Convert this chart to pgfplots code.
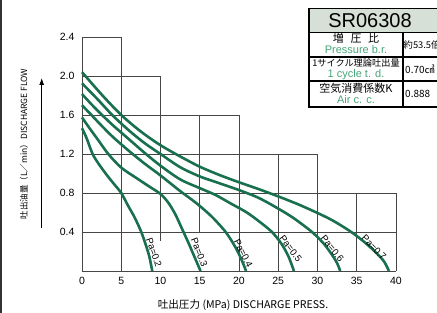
\documentclass[border=0pt]{standalone}
\usepackage{pgfplots}
\pgfplotsset{compat=1.18}
\usetikzlibrary{arrows.meta}
\usepackage{fontspec}
\setmainfont{Liberation Sans}
\newfontfamily\cjk{Noto Sans CJK JP}
\definecolor{cg}{RGB}{24,112,78}
\definecolor{tg}{RGB}{70,165,120}
\definecolor{hf}{RGB}{214,224,214}
\definecolor{gl}{RGB}{70,70,70}
\begin{document}
\begin{tikzpicture}[x=1pt,y=1pt]
\useasboundingbox (0,0) rectangle (437,313);
\draw[line width=1.5pt, black!80] (0.75,0) -- (0.75,313);
% y label and arrow
\node[rotate=90, font=\cjk\fontsize{8.5}{10}\selectfont] at (24,169) {吐出油量（L／min）DISCHARGE FLOW};
\draw[-{Latex[length=7pt,width=5pt]}, line width=0.8pt] (41.7,85) -- (41.7,235);
\node[font=\cjk\fontsize{10.6}{11}\selectfont] at (243,8) {吐出圧力 (MPa) DISCHARGE PRESS.};
\begin{axis}[at={(82pt,42pt)}, anchor=south west, scale only axis,
  width=314pt, height=234pt, xmin=0, xmax=40, ymin=0, ymax=2.4,
  clip=false, axis line style={draw=none}, major tick length=0pt, tick pos=left,
  xtick={0,5,...,40}, ytick={0.4,0.8,1.2,1.6,2.0,2.4},
  yticklabel style={/pgf/number format/fixed, /pgf/number format/fixed zerofill, /pgf/number format/precision=1, /pgf/number format/assume math mode=true, xshift=-4pt},
  xticklabel style={/pgf/number format/assume math mode=true, yshift=-3pt},
  tick label style={font=\fontsize{10.5}{12}\selectfont},
  /pgf/number format/assume math mode=true]
% staircase grid
\addplot[gl, line width=0.9pt] coordinates {(0,0) (40,0)};
\addplot[gl, line width=0.9pt] coordinates {(0,0.4) (40,0.4)};
\addplot[gl, line width=0.9pt] coordinates {(0,0.8) (40,0.8)};
\addplot[gl, line width=0.9pt] coordinates {(0,1.2) (30,1.2)};
\addplot[gl, line width=0.9pt] coordinates {(0,1.6) (20,1.6)};
\addplot[gl, line width=0.9pt] coordinates {(0,2.0) (10,2.0)};
\addplot[gl, line width=0.9pt] coordinates {(0,2.4) (5,2.4)};
\addplot[gl, line width=0.9pt] coordinates {(0,0) (0,2.4)};
\addplot[gl, line width=0.9pt] coordinates {(5,0) (5,2.4)};
\addplot[gl, line width=0.9pt] coordinates {(10,0.31) (10,2.0)};
\addplot[gl, line width=0.9pt] coordinates {(15,0.4) (15,1.6)};
\addplot[gl, line width=0.9pt] coordinates {(20,0) (20,1.6)};
\addplot[gl, line width=0.9pt] coordinates {(25,0) (25,1.2)};
\addplot[gl, line width=0.9pt] coordinates {(30,0) (30,1.2)};
\addplot[gl, line width=0.9pt] coordinates {(35,0) (35,0.8)};
\addplot[gl, line width=0.9pt] coordinates {(40,0) (40,0.8)};
% curves
\addplot[cg, line width=2.6pt, smooth] coordinates {(0,1.465) (0.6,1.36) (1.35,1.2) (2.2,1.09) (3.2,0.98) (4.1,0.89) (5.0,0.8) (5.8,0.68) (6.7,0.55) (7.55,0.4) (8.2,0.25) (8.6,0.14) (8.95,0)};
\addplot[cg, line width=2.6pt, smooth] coordinates {(0,1.575) (1,1.46) (2,1.35) (3.35,1.2) (5,1.06) (7,0.95) (8.5,0.87) (10,0.79) (11,0.7) (11.9,0.58) (12.7,0.44) (13.5,0.3) (14.3,0.15) (15.1,0)};
\addplot[cg, line width=2.6pt, smooth] coordinates {(0,1.70) (1.2,1.6) (2.5,1.49) (4,1.37) (6,1.23) (8,1.1) (10,0.98) (12.5,0.82) (14.5,0.7) (16.5,0.56) (18.3,0.4) (19.5,0.25) (20.3,0.12) (20.9,0)};
\addplot[cg, line width=2.6pt, smooth] coordinates {(0,1.815) (1.2,1.71) (2.55,1.6) (4,1.49) (6,1.35) (8,1.21) (10,1.08) (12.5,0.94) (15,0.85) (17,0.78) (19,0.69) (21,0.6) (22.7,0.5) (24.2,0.4) (25.4,0.28) (26.3,0.15) (27,0)};
\addplot[cg, line width=2.6pt, smooth] coordinates {(0,1.925) (2,1.76) (3.85,1.6) (6,1.44) (8,1.31) (10,1.2) (12.5,1.065) (15,0.97) (17.5,0.9) (20,0.83) (22.5,0.75) (25,0.64) (27,0.54) (29.3,0.4) (30.8,0.28) (31.9,0.16) (32.5,0.08) (32.9,0)};
\addplot[cg, line width=2.6pt, smooth] coordinates {(0,2.04) (2.5,1.81) (5,1.6) (7.5,1.43) (10,1.29) (12.5,1.175) (15,1.07) (17.5,0.985) (20,0.91) (22.5,0.84) (25,0.765) (27.5,0.685) (30,0.595) (32,0.515) (34.3,0.4) (36,0.295) (37.5,0.185) (38.5,0.095) (39.1,0)};
% labels
\node[rotate=-71, font=\fontsize{9.5}{10}\selectfont] at (axis cs:9.17,0.19) {Pa=0.2};
\node[rotate=-69, font=\fontsize{9.5}{10}\selectfont] at (axis cs:14.94,0.19) {Pa=0.3};
\node[rotate=-63, font=\fontsize{9.5}{10}\selectfont] at (axis cs:20.55,0.18) {Pa=0.4};
\node[rotate=-53, font=\fontsize{9.5}{10}\selectfont] at (axis cs:26.6,0.23) {Pa=0.5};
\node[rotate=-51, font=\fontsize{9.5}{10}\selectfont] at (axis cs:31.9,0.23) {Pa=0.6};
\node[rotate=-46, font=\fontsize{9.5}{10}\selectfont] at (axis cs:37.2,0.24) {Pa=0.7};
\end{axis}
% table
\fill[hf] (309,280.5) rectangle (445,304.5);
\draw[line width=1.4pt] (445,304.5) -- (309,304.5) -- (309,206) -- (445,206);
\draw[line width=1.2pt] (309,280.5) -- (445,280.5);
\draw[line width=1.2pt] (309,256) -- (445,256);
\draw[line width=1.2pt] (309,232) -- (445,232);
\draw[line width=1.2pt] (403,280.5) -- (403,206);
\node[font=\fontsize{20}{20}\selectfont] at (370,292.5) {SR06308};
\node[font=\cjk\fontsize{11}{11}\selectfont] at (356,275) {増\hspace{0.6em}圧\hspace{0.6em}比};
\node[font=\fontsize{11}{11}\selectfont, text=tg] at (356,263) {Pressure b.r.};
\node[font=\cjk\fontsize{9.2}{10}\selectfont] at (356,250) {1サイクル理論吐出量};
\node[font=\fontsize{11}{11}\selectfont, text=tg] at (356,238.5) {1 cycle t. d.};
\node[font=\cjk\fontsize{11}{11}\selectfont] at (356,224.5) {空気消費係数K};
\node[font=\fontsize{11}{11}\selectfont, text=tg] at (356,213) {Air c. c.};
\node[font=\cjk\fontsize{9.3}{10}\selectfont, anchor=west, inner sep=0pt] at (403.5,268) {約53.5倍};
\node[font=\cjk\fontsize{10}{11}\selectfont, anchor=west, inner sep=0pt] at (405,243.5) {0.70㎤};
\node[font=\cjk\fontsize{10}{11}\selectfont, anchor=west, inner sep=0pt] at (405,219) {0.888};
\end{tikzpicture}
\end{document}
